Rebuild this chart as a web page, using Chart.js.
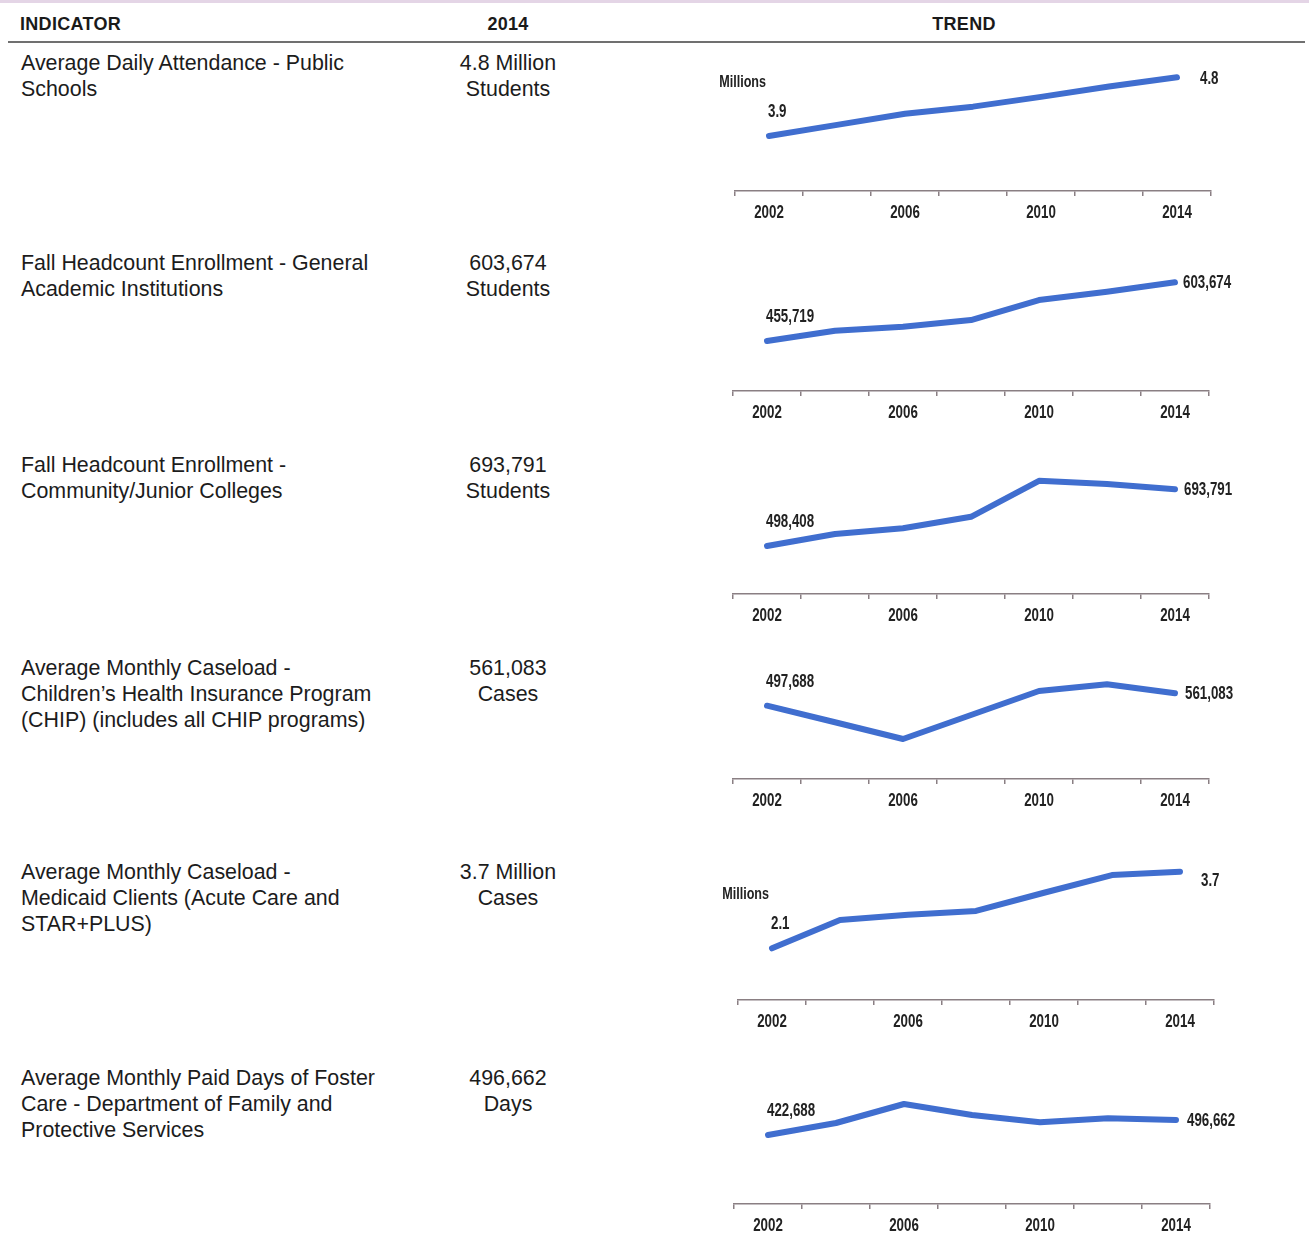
<!DOCTYPE html>
<html>
<head>
<meta charset="utf-8">
<script src="https://cdn.jsdelivr.net/npm/chart.js@4.4.1/dist/chart.umd.min.js"></script>
<style>
  html, body { margin: 0; padding: 0; background: #fff; }
  body { width: 1309px; height: 1244px; position: relative; overflow: hidden;
         font-family: "Liberation Sans", Arial, sans-serif; color: #1c1c1c; }
  .topband { position: absolute; left: 0; top: 0; width: 1309px; height: 3px; background: #e4d5e6; }
  .hdr { position: absolute; top: 13px; font: bold 18px "Liberation Sans", Arial, sans-serif;
         color: #1a1a1a; line-height: 22px; letter-spacing: 0.3px; }
  .rule { position: absolute; left: 8px; top: 41px; width: 1297px; height: 2px; background: #707070; }
  .ind { position: absolute; left: 21px; font-size: 21.4px; line-height: 26px; white-space: nowrap; }
  .val { position: absolute; left: 418px; width: 180px; text-align: center; font-size: 21.4px; line-height: 26px; }
  .spark { position: absolute; }
</style>
</head>
<body>
<div class="topband"></div>
<div class="hdr" style="left:20px">INDICATOR</div>
<div class="hdr" style="left:468px;width:80px;text-align:center">2014</div>
<div class="hdr" style="left:904px;width:120px;text-align:center">TREND</div>
<div class="rule"></div>
<div id="rows"></div>

<script>
// ── Data ──────────────────────────────────────────────────────────────
const years = ['2002', '2004', '2006', '2008', '2010', '2012', '2014'];

const indicators = [
  ['Average Daily Attendance - Public', 'Schools'],
  ['Fall Headcount Enrollment - General', 'Academic Institutions'],
  ['Fall Headcount Enrollment -', 'Community/Junior Colleges'],
  ['Average Monthly Caseload -', 'Children\u2019s Health Insurance Program', '(CHIP) (includes all CHIP programs)'],
  ['Average Monthly Caseload -', 'Medicaid Clients (Acute Care and', 'STAR+PLUS)'],
  ['Average Monthly Paid Days of Foster', 'Care - Department of Family and', 'Protective Services'],
];
const latestText = [
  ['4.8 Million', 'Students'],
  ['603,674', 'Students'],
  ['693,791', 'Students'],
  ['561,083', 'Cases'],
  ['3.7 Million', 'Cases'],
  ['496,662', 'Days'],
];

// series values per indicator (millions where the unit label says so)
const attendance     = [3.9, 4.07, 4.24, 4.35, 4.50, 4.66, 4.8];
const enrollGeneral  = [455719, 481700, 491800, 508600, 559000, 580000, 603674];
const enrollCommunity= [498408, 539800, 559400, 599000, 723000, 712000, 693791];
const chipCaseload   = [497688, 413000, 327500, 450200, 572800, 607100, 561083];
const medicaidClients= [2.1, 2.69, 2.80, 2.88, 3.26, 3.63, 3.7];
const fosterDays     = [422688, 481900, 575600, 521300, 485300, 505000, 496662];

const series    = [attendance, enrollGeneral, enrollCommunity, chipCaseload, medicaidClients, fosterDays];
const unitLabel = ['Millions', '', '', '', 'Millions', ''];

// y-scale bounds for each sparkline
const yMin = [3.0567, 329694, 333000, 122942, 1.0201, 82408];
const yMax = [5.2032, 682564, 815440, 838692, 3.9444, 772832];

// ── Layout ────────────────────────────────────────────────────────────
const textTop  = [50, 250, 452, 655, 859, 1065];
const axisY    = [191, 391, 594, 779, 1000, 1204];
const axisLeft = [735, 733, 733, 733, 738, 734];
const endGap   = [23, 8, 9, 10, 21, 11];
const endDy    = [1.5, 1, 1, 1, 9, 1];

const AXIS_W = 476, PAD_L = 60, PAD_R = 90, PLOT_H = 140, PAD_T = 10, XAXIS_H = 30;
const LINE_BLUE = '#406ecf';
const AXIS_GREY = '#8a7f83';
const LABEL_FONT = '"Liberation Sans", Arial, sans-serif';
const NARROW = 0.74;   // horizontal squeeze for the condensed chart lettering

const fmtVal = (v, millions) => millions ? v.toFixed(1) : v.toLocaleString('en-US');

// draw text squeezed horizontally, anchored at (x, y)
function narrowText(ctx, text, x, y, align) {
  ctx.save();
  ctx.translate(x, y);
  ctx.scale(NARROW, 1);
  ctx.textAlign = align;
  ctx.fillText(text, 0, 0);
  ctx.restore();
}

// ── Year labels, first/last value labels and unit caption ────────────
const sparkLabels = {
  id: 'sparkLabels',
  afterDraw(chart, args, opts) {
    const ctx = chart.ctx;
    const xs = chart.scales.x;
    const pts  = chart.getDatasetMeta(0).data;
    const vals = chart.data.datasets[0].data;
    const first = pts[0], last = pts[pts.length - 1];
    const millions = !!opts.unit;

    ctx.save();
    ctx.fillStyle = '#222';
    ctx.textBaseline = 'middle';
    ctx.font = 'bold 18px ' + LABEL_FONT;
    chart.data.labels.forEach((lab, idx) => {
      if (idx % 2 === 0) narrowText(ctx, lab, xs.getPixelForValue(idx), xs.top + 22, 'center');
    });

    narrowText(ctx, fmtVal(vals[0], millions), first.x - 1, first.y - 24, 'left');
    narrowText(ctx, fmtVal(vals[vals.length - 1], millions), last.x + opts.gap, last.y + opts.dy, 'left');
    if (opts.unit) {
      ctx.font = 'bold 17px ' + LABEL_FONT;
      narrowText(ctx, opts.unit, first.x - 3, first.y - 54, 'right');
    }
    ctx.restore();
  }
};

const rows = document.getElementById('rows');

series.forEach((vals, i) => {
  // indicator + latest value text
  const ind = document.createElement('div');
  ind.className = 'ind';
  ind.style.top = textTop[i] + 'px';
  ind.innerHTML = indicators[i].join('<br>');
  rows.appendChild(ind);

  const val = document.createElement('div');
  val.className = 'val';
  val.style.top = textTop[i] + 'px';
  val.innerHTML = latestText[i].join('<br>');
  rows.appendChild(val);

  // sparkline
  const w = PAD_L + AXIS_W + PAD_R;
  const h = PAD_T + PLOT_H + XAXIS_H;
  const box = document.createElement('div');
  box.className = 'spark';
  box.style.left = (axisLeft[i] - PAD_L) + 'px';
  box.style.top  = (axisY[i] - PLOT_H - PAD_T) + 'px';
  box.style.width = w + 'px';
  box.style.height = h + 'px';
  const cv = document.createElement('canvas');
  cv.width = w; cv.height = h;
  box.appendChild(cv);
  rows.appendChild(box);

  new Chart(cv.getContext('2d'), {
    type: 'line',
    data: {
      labels: years,
      datasets: [{
        data: vals,
        borderColor: LINE_BLUE,
        borderWidth: 6,
        borderCapStyle: 'round',
        borderJoinStyle: 'round',
        pointRadius: 0,
        tension: 0,
        fill: false,
        clip: false,
      }],
    },
    options: {
      responsive: false,
      animation: false,
      layout: { padding: { left: PAD_L, right: PAD_R, top: PAD_T, bottom: 0 } },
      plugins: {
        legend: { display: false },
        tooltip: { enabled: false },
        sparkLabels: { unit: unitLabel[i], gap: endGap[i], dy: endDy[i] },
      },
      scales: {
        x: {
          offset: true,
          border: { display: true, color: AXIS_GREY, width: 1.5 },
          grid: { offset: true, drawOnChartArea: false, drawTicks: true, tickLength: 5, color: AXIS_GREY, lineWidth: 1.5 },
          ticks: { display: false, autoSkip: false },
          afterFit: s => { s.height = XAXIS_H; },
        },
        y: { display: false, min: yMin[i], max: yMax[i] },
      },
    },
    plugins: [sparkLabels],
  });
});
</script>
</body>
</html>
